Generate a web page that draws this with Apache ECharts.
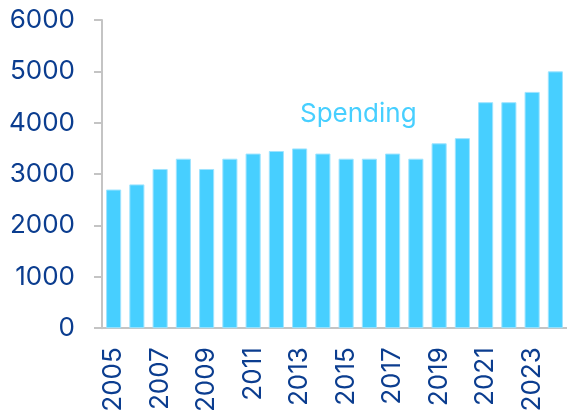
<!DOCTYPE html>
<html><head><meta charset="utf-8">
<script src="https://cdn.jsdelivr.net/npm/echarts@6/dist/echarts.min.js"></script>
<style>html,body{margin:0;padding:0;background:#fff}#c{width:567px;height:415px}</style>
</head><body><div id="c"></div>
<script>
var years = ['2005','2006','2007','2008','2009','2010','2011','2012','2013','2014','2015','2016','2017','2018','2019','2020','2021','2022','2023','2024'];
var spending = [2700,2800,3100,3300,3100,3300,3400,3450,3500,3400,3300,3300,3400,3300,3600,3700,4400,4400,4600,5000];
var yTicks = {min:0, max:6000, interval:1000};
var seriesName = 'Spending';

var chart = echarts.init(document.getElementById('c'), null, {renderer:'canvas'});
var labelColor = '#0b3d8f';
var font = 'Inter, sans-serif';
chart.setOption({
  animation:false,
  grid:{left:102, right:-2, top:20, bottom:85, containLabel:false},
  xAxis:{type:'category', data:years,
    axisLine:{lineStyle:{color:'#c4c4c4', width:2}},
    axisTick:{interval:1, length:7, lineStyle:{color:'#c4c4c4', width:2}},
    axisLabel:{interval:1, rotate:90, margin:19, color:labelColor, fontSize:26, fontFamily:font}},
  yAxis:{type:'value', min:yTicks.min, max:yTicks.max, interval:yTicks.interval,
    splitLine:{show:false},
    axisLine:{show:true, lineStyle:{color:'#c4c4c4', width:2}},
    axisTick:{show:true, length:8, lineStyle:{color:'#c4c4c4', width:2}},
    axisLabel:{margin:27, color:labelColor, fontSize:26, fontFamily:font, formatter:function(v){return String(v);}}},
  graphic:[{type:'text', left:300, top:101, style:{text:seriesName, fill:'#47cfff', fontSize:26, fontFamily:font}}],
  series:[{type:'bar', name:seriesName, data:spending, barCategoryGap:'35%',
    itemStyle:{color:'#47cfff', borderColor:'#9fe4ff', borderWidth:1}}]
});
</script></body></html>
